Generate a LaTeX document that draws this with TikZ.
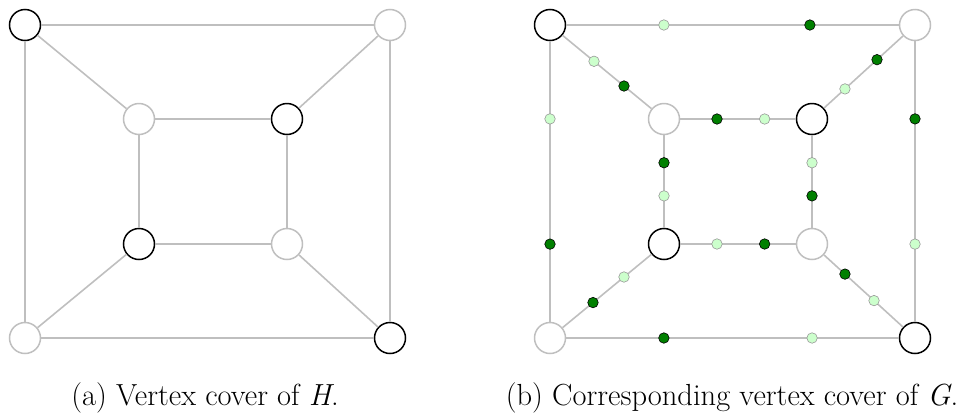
\documentclass[tikz,border=0pt]{standalone}
\usetikzlibrary{calc}
\begin{document}
\begin{tikzpicture}[x=1pt,y=-1pt,
  edge/.style={draw=black!25,line width=1.6pt},
  cov/.style={circle,draw=black,line width=1.5pt,fill=white,minimum size=31pt,inner sep=0pt},
  unc/.style={circle,draw=black!25,line width=1.5pt,fill=white,minimum size=31pt,inner sep=0pt},
  ld/.style={circle,draw=black!40,line width=0.6pt,fill=green!20,minimum size=10.5pt,inner sep=0pt},
  dd/.style={circle,draw=black,line width=0.6pt,fill=green!50!black,minimum size=10.5pt,inner sep=0pt},
  captext/.style={font=\fontsize{30.5}{37}\selectfont,inner sep=0pt,anchor=base}]
\useasboundingbox (0,0) rectangle (973,418);
% left graph
\node[cov] (a1) at (25,25) {};
\node[unc] (a2) at (390,25) {};
\node[unc] (a3) at (25,338) {};
\node[cov] (a4) at (390,338) {};
\node[unc] (a5) at (139,119) {};
\node[cov] (a6) at (287,119) {};
\node[cov] (a7) at (139,244) {};
\node[unc] (a8) at (287,244) {};
% right graph
\node[cov] (b1) at (550,25) {};
\node[unc] (b2) at (915,25) {};
\node[unc] (b3) at (550,338) {};
\node[cov] (b4) at (915,338) {};
\node[unc] (b5) at (664,119) {};
\node[cov] (b6) at (812,119) {};
\node[cov] (b7) at (664,244) {};
\node[unc] (b8) at (812,244) {};
% left edges
\foreach \u/\v in {a1/a2,a1/a3,a2/a4,a3/a4,a1/a5,a2/a6,a3/a7,a4/a8,a5/a6,a5/a7,a6/a8,a7/a8}
  \draw[edge] (\u) -- (\v);
% right edges
\foreach \u/\v in {b1/b2,b1/b3,b2/b4,b3/b4,b1/b5,b2/b6,b3/b7,b4/b8,b5/b6,b5/b7,b6/b8,b7/b8}
  \draw[edge] (\u) -- (\v);
% small dots on the edges of G
\node[ld] (s1) at ($(b1)!0.312!(b2)$) {};
\node[dd] (s2) at ($(b1)!0.712!(b2)$) {};
\node[ld] (s3) at ($(b1)!0.300!(b3)$) {};
\node[dd] (s4) at ($(b1)!0.700!(b3)$) {};
\node[dd] (s5) at ($(b2)!0.300!(b4)$) {};
\node[ld] (s6) at ($(b2)!0.700!(b4)$) {};
\node[dd] (s7) at ($(b3)!0.312!(b4)$) {};
\node[ld] (s8) at ($(b3)!0.718!(b4)$) {};
\node[dd] (s9) at ($(b5)!0.358!(b6)$) {};
\node[ld] (s10) at ($(b5)!0.68!(b6)$) {};
\node[dd] (s11) at ($(b5)!0.35!(b7)$) {};
\node[ld] (s12) at ($(b5)!0.615!(b7)$) {};
\node[ld] (s13) at ($(b6)!0.35!(b8)$) {};
\node[dd] (s14) at ($(b6)!0.615!(b8)$) {};
\node[ld] (s15) at ($(b7)!0.358!(b8)$) {};
\node[dd] (s16) at ($(b7)!0.68!(b8)$) {};
\node[ld] (s17) at ($(b1)!0.386!(b5)$) {};
\node[dd] (s18) at ($(b1)!0.649!(b5)$) {};
\node[dd] (s19) at ($(b2)!0.369!(b6)$) {};
\node[ld] (s20) at ($(b2)!0.68!(b6)$) {};
\node[dd] (s21) at ($(b3)!0.377!(b7)$) {};
\node[ld] (s22) at ($(b3)!0.649!(b7)$) {};
\node[ld] (s23) at ($(b4)!0.398!(b8)$) {};
\node[dd] (s24) at ($(b4)!0.68!(b8)$) {};
% captions
\node[captext] (c1) at (205,405) {(a) Vertex cover of \textit{H}.};
\node[captext] (c2) at (732,405) {(b) Corresponding vertex cover of \textit{G}.};
\end{tikzpicture}
\end{document}
